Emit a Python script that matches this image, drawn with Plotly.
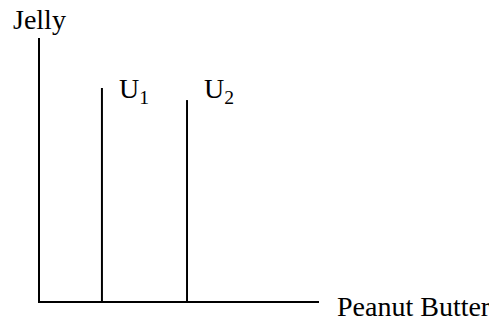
import plotly.graph_objects as go

# Indifference curves (vertical lines: jelly adds no utility)
curve_names = ["U<sub>1</sub>", "U<sub>2</sub>"]
curve_x = [2.22, 5.27]
curve_top = [8.1, 7.64]

x_label = "Peanut Butter"
y_label = "Jelly"

FONT = "Liberation Serif, Times New Roman, serif"
LABEL_Y = 7.28

fig = go.Figure()
for name, xv, top in zip(curve_names, curve_x, curve_top):
    fig.add_trace(go.Scatter(x=[xv, xv], y=[0, top], mode="lines",
                             line=dict(color="black", width=2),
                             showlegend=False, hoverinfo="skip"))
    fig.add_annotation(x=xv + 0.53, y=LABEL_Y, xref="x", yref="y",
                       text=name, showarrow=False, xanchor="left", yanchor="bottom",
                       font=dict(family=FONT, size=28, color="black"))

fig.add_annotation(x=-0.104, y=1.072, xref="paper", yref="paper", text=y_label,
                   showarrow=False, xanchor="left", yanchor="middle",
                   font=dict(family=FONT, size=28, color="black"))
fig.add_annotation(x=1.057, y=-0.022, xref="paper", yref="paper", text=x_label,
                   showarrow=False, xanchor="left", yanchor="middle",
                   font=dict(family=FONT, size=28, color="black"))

fig.update_xaxes(range=[0, 10], showline=True, linecolor="black", linewidth=2,
                 showgrid=False, zeroline=False, showticklabels=False, ticks="")
fig.update_yaxes(range=[0, 10], showline=True, linecolor="black", linewidth=2,
                 showgrid=False, zeroline=False, showticklabels=False, ticks="")
fig.update_layout(width=489, height=318, margin=dict(l=32, r=178, t=30, b=25),
                  plot_bgcolor="white", paper_bgcolor="white")

fig.write_html("out.html")
